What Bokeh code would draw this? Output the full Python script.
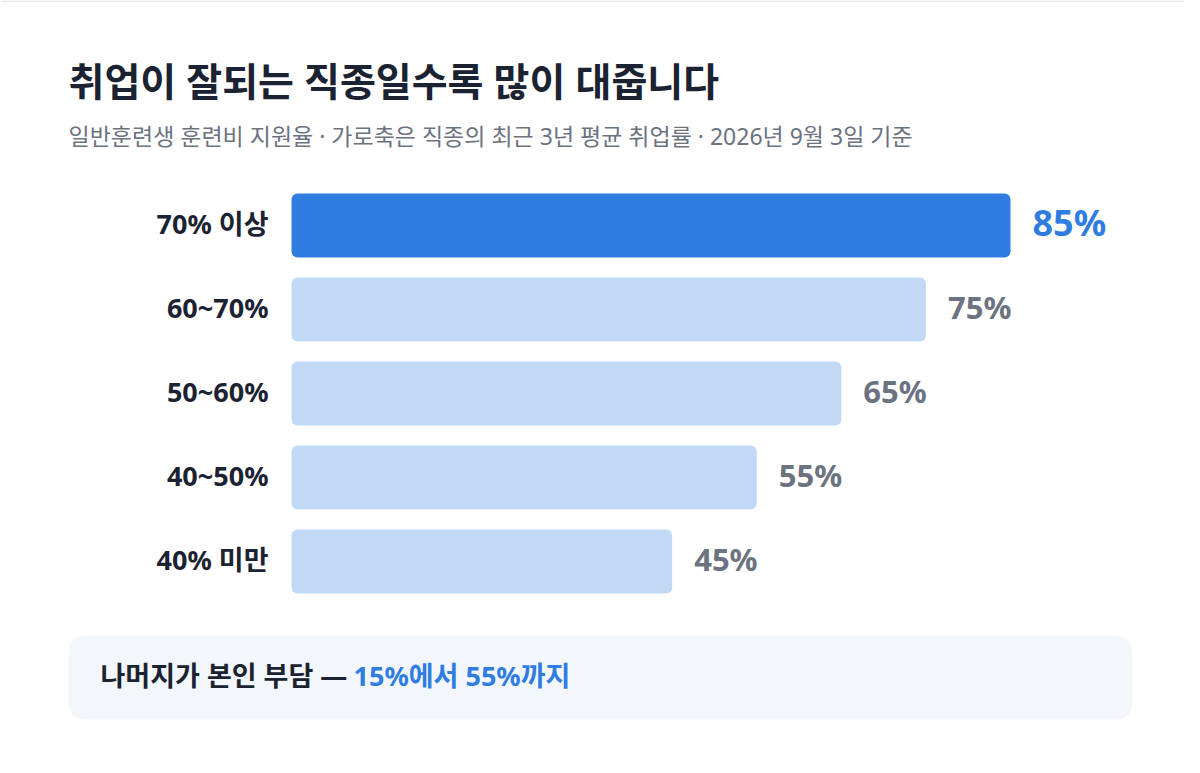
from bokeh.core.properties import value
from bokeh.embed import file_html
from bokeh.models import BoxAnnotation, ColumnDataSource, Label, Range1d
from bokeh.plotting import figure
from bokeh.resources import INLINE

# data
categories = ["70% 이상", "60~70%", "50~60%", "40~50%", "40% 미만"]
support_rate = [85, 75, 65, 55, 45]
highlight = [True, False, False, False, False]

title_text = "취업이 잘되는 직종일수록 많이 대줍니다"
subtitle_text = "일반훈련생 훈련비 지원율 · 가로축은 직종의 최근 3년 평균 취업률 · 2026년 9월 3일 기준"
note_dark = "나머지가 본인 부담 —"
note_blue = "15%에서 55%까지"

W, H = 1184, 757
FONT = "Noto Sans, Noto Sans CJK KR"
BLUE = "#2f7de1"
LIGHT = "#c2d9f5"
DARK = "#1b2231"
GRAY = "#6b7280"

# layout: bar zero at x=291px, 719px for 85 ; first bar centre 225px from top, 84px pitch
px_per_unit = 719 / 85
x0_px = 291
row_px = 84
row0_px = 225

p = figure(width=W, height=H, output_backend="svg", toolbar_location=None,
           x_axis_location=None, y_axis_location=None, min_border=0,
           x_range=Range1d(-x0_px / px_per_unit, (W - x0_px) / px_per_unit),
           y_range=Range1d((H - row0_px) / row_px, -row0_px / row_px))
p.outline_line_color = None
p.grid.visible = False
p.background_fill_color = "white"
p.border_fill_color = "white"

pos = list(range(len(categories)))
src = ColumnDataSource(dict(
    pos=pos,
    cat=categories,
    rate=support_rate,
    label=[f"{v}%" for v in support_rate],
    bar_color=[BLUE if h else LIGHT for h in highlight],
    txt_color=[BLUE if h else GRAY for h in highlight],
    txt_size=["36px" if h else "31px" for h in highlight],
))

p.hbar(y="pos", left=0, right="rate", height=64 / row_px, source=src,
       fill_color="bar_color", line_color=None, border_radius=6)

p.text(x=0, y="pos", text="cat", source=src, x_offset=-23, y_offset=-2,
       text_align="right", text_baseline="middle", text_color=DARK,
       text_font=value(FONT), text_font_style="bold", text_font_size="27px")

p.text(x="rate", y="pos", text="label", source=src, x_offset=22, y_offset=-3,
       text_align="left", text_baseline="middle", text_color="txt_color",
       text_font=value(FONT), text_font_style="bold", text_font_size="txt_size")

# thin top edge of the card
p.add_layout(BoxAnnotation(left=0, right=W, bottom=H - 1.5, top=H,
                           left_units="screen", right_units="screen",
                           bottom_units="screen", top_units="screen",
                           fill_color="#e4e6ea", fill_alpha=1, line_color=None))

# title + subtitle
p.add_layout(Label(x=68, y=H - 80, x_units="screen", y_units="screen", text=title_text,
                   text_font=FONT, text_font_style="bold", text_font_size="39px",
                   text_color=DARK, text_baseline="middle"))
p.add_layout(Label(x=68, y=H - 135, x_units="screen", y_units="screen", text=subtitle_text,
                   text_font=FONT, text_font_size="23px", text_color=GRAY,
                   text_baseline="middle"))

# note box at the bottom
p.add_layout(BoxAnnotation(left=68, right=1132, bottom=H - 719, top=H - 635,
                           left_units="screen", right_units="screen",
                           bottom_units="screen", top_units="screen",
                           fill_color="#f3f6fb", fill_alpha=1, line_color=None,
                           border_radius=16))
p.add_layout(Label(x=100, y=H - 675, x_units="screen", y_units="screen", text=note_dark,
                   text_font=FONT, text_font_style="bold", text_font_size="27px",
                   text_color=DARK, text_baseline="middle"))
p.add_layout(Label(x=353, y=H - 675, x_units="screen", y_units="screen", text=note_blue,
                   text_font=FONT, text_font_style="bold", text_font_size="27px",
                   text_color=BLUE, text_baseline="middle"))

open("out.html", "w").write(file_html(p, INLINE))
